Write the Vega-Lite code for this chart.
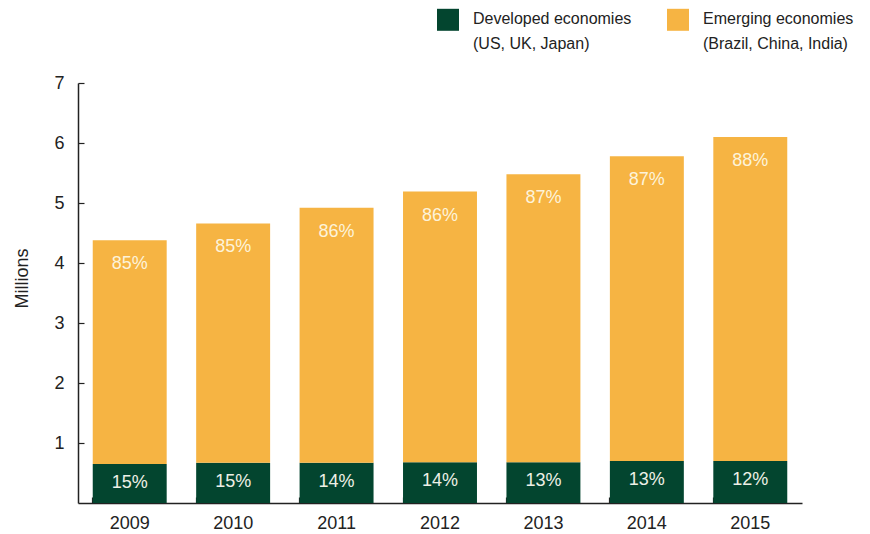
{
  "$schema": "https://vega.github.io/schema/vega-lite/v6.json",
  "width": 724,
  "height": 420,
  "autosize": {"type": "none"},
  "padding": {"left": 78, "top": 83, "right": 68, "bottom": 31},
  "background": "white",
  "data": {
    "values": [
      {"year": "2009", "group": "Developed economies\n(US, UK, Japan)", "ord": 1, "value": 0.65, "share": "15%"},
      {"year": "2009", "group": "Emerging economies\n(Brazil, China, India)", "ord": 2, "value": 3.73, "share": "85%"},
      {"year": "2010", "group": "Developed economies\n(US, UK, Japan)", "ord": 1, "value": 0.67, "share": "15%"},
      {"year": "2010", "group": "Emerging economies\n(Brazil, China, India)", "ord": 2, "value": 3.99, "share": "85%"},
      {"year": "2011", "group": "Developed economies\n(US, UK, Japan)", "ord": 1, "value": 0.67, "share": "14%"},
      {"year": "2011", "group": "Emerging economies\n(Brazil, China, India)", "ord": 2, "value": 4.25, "share": "86%"},
      {"year": "2012", "group": "Developed economies\n(US, UK, Japan)", "ord": 1, "value": 0.68, "share": "14%"},
      {"year": "2012", "group": "Emerging economies\n(Brazil, China, India)", "ord": 2, "value": 4.51, "share": "86%"},
      {"year": "2013", "group": "Developed economies\n(US, UK, Japan)", "ord": 1, "value": 0.68, "share": "13%"},
      {"year": "2013", "group": "Emerging economies\n(Brazil, China, India)", "ord": 2, "value": 4.80, "share": "87%"},
      {"year": "2014", "group": "Developed economies\n(US, UK, Japan)", "ord": 1, "value": 0.70, "share": "13%"},
      {"year": "2014", "group": "Emerging economies\n(Brazil, China, India)", "ord": 2, "value": 5.08, "share": "87%"},
      {"year": "2015", "group": "Developed economies\n(US, UK, Japan)", "ord": 1, "value": 0.70, "share": "12%"},
      {"year": "2015", "group": "Emerging economies\n(Brazil, China, India)", "ord": 2, "value": 5.40, "share": "88%"}
    ]
  },
  "transform": [
    {"stack": "value", "groupby": ["year"], "sort": [{"field": "ord"}], "as": ["v0", "v1"]}
  ],
  "encoding": {
    "x": {
      "field": "year",
      "type": "ordinal",
      "title": null,
      "scale": {"paddingInner": 0.285, "paddingOuter": 0.1425},
      "axis": {
        "labelAngle": 0,
        "bandPosition": 0,
        "tickSize": -6,
        "labelPadding": 17,
        "labelFontSize": 18,
        "labelFont": "Liberation Sans",
        "labelColor": "#222",
        "domainColor": "#222",
        "tickColor": "#222",
        "domainWidth": 1.5,
        "tickWidth": 1.2
      }
    }
  },
  "layer": [
    {
      "mark": {"type": "bar"},
      "encoding": {
        "y": {
          "field": "v1",
          "type": "quantitative",
          "title": "Millions",
          "scale": {"domain": [0, 7], "nice": false},
          "axis": {
            "values": [1, 2, 3, 4, 5, 6, 7],
            "format": "d",
            "grid": false,
            "tickSize": -6,
            "labelPadding": 20,
            "labelFontSize": 18,
            "labelFont": "Liberation Sans",
            "labelColor": "#222",
            "domainColor": "#222",
            "tickColor": "#222",
            "domainWidth": 1.5,
            "tickWidth": 1.2,
            "titleFont": "Liberation Sans",
            "titleFontSize": 18,
            "titleFontWeight": "normal",
            "titleColor": "#222",
            "titlePadding": 22,
            "titleY": 195
          }
        },
        "y2": {"field": "v0"},
        "color": {
          "field": "group",
          "type": "nominal",
          "scale": {
            "domain": ["Developed economies\n(US, UK, Japan)", "Emerging economies\n(Brazil, China, India)"],
            "range": ["#03452f", "#f6b443"]
          },
          "legend": {
            "orient": "none",
            "legendX": 359,
            "legendY": -83,
            "direction": "horizontal",
            "title": null,
            "symbolType": "M-1,-0.2H1V1.8H-1Z",
            "symbolSize": 484,
            "symbolStrokeWidth": 0,
            "labelFontSize": 16,
            "labelFont": "Liberation Sans",
            "labelColor": "#222",
            "labelOffset": 14,
            "columnPadding": 35,
            "labelLimit": 300,
            "labelBaseline": "top",
            "labelExpr": "split(datum.label, '\\n')"
          }
        }
      }
    },
    {
      "transform": [{"filter": "datum.ord == 1"}],
      "mark": {"type": "text", "dy": 19, "baseline": "middle", "fontSize": 18, "font": "Liberation Sans", "color": "#eef0e6"},
      "encoding": {
        "y": {"field": "v1", "type": "quantitative"},
        "text": {"field": "share"}
      }
    },
    {
      "transform": [{"filter": "datum.ord == 2"}],
      "mark": {"type": "text", "dy": 24, "baseline": "middle", "fontSize": 18, "font": "Liberation Sans", "color": "#fdf3da"},
      "encoding": {
        "y": {"field": "v1", "type": "quantitative"},
        "text": {"field": "share"}
      }
    }
  ],
  "config": {
    "view": {"stroke": null},
    "style": {"guide-label": {"lineHeight": 25}}
  }
}
